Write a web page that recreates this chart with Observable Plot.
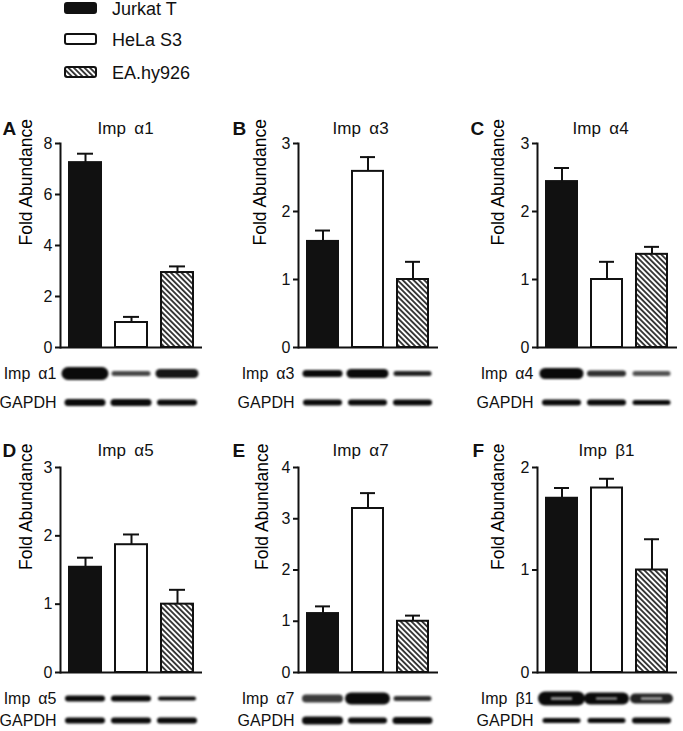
<!DOCTYPE html>
<html><head><meta charset="utf-8">
<script src="https://cdn.jsdelivr.net/npm/d3@7"></script>
<script src="https://cdn.jsdelivr.net/npm/@observablehq/plot@0.6"></script>
<style>
body{margin:0;background:#fff;font-family:"Liberation Sans",Arial,sans-serif;}
#fig{position:relative;width:683px;height:731px;overflow:hidden;background:#fff;}
.pos{position:absolute;}
.leg{position:absolute;left:64px;font-size:18px;color:#111;}
.leg svg{position:absolute;left:0;top:0;}
.leg span{position:absolute;left:48px;top:-3px;white-space:nowrap;}
svg text{-webkit-font-smoothing:antialiased;}
</style></head><body>
<svg width="0" height="0" style="position:absolute">
 <defs>
  <pattern id="hatch" patternUnits="userSpaceOnUse" width="3.8" height="3.8" patternTransform="rotate(-45)">
   <rect width="3.8" height="3.8" fill="white"/>
   <line x1="1.9" y1="-1" x2="1.9" y2="5" stroke="#111" stroke-width="1.6"/>
  </pattern>
 </defs>
</svg>
<div id="fig"></div>
<script>
// ---- data ----
const cells = ["Jurkat T", "HeLa S3", "EA.hy926"];
const panelLetters = ["A", "B", "C", "D", "E", "F"];
const proteins = ["Imp\u2002α1", "Imp\u2002α3", "Imp\u2002α4", "Imp\u2002α5", "Imp\u2002α7", "Imp\u2002β1"];
const yTicks = [[0, 2, 4, 6, 8], [0, 1, 2, 3], [0, 1, 2, 3], [0, 1, 2, 3], [0, 1, 2, 3, 4], [0, 1, 2]];

const meanA1 = [7.25, 0.98, 2.94], errA1 = [0.35, 0.22, 0.24];
const meanA3 = [1.56, 2.59, 1.0],  errA3 = [0.16, 0.21, 0.26];
const meanA4 = [2.44, 1.0, 1.37],  errA4 = [0.2, 0.26, 0.11];
const meanA5 = [1.54, 1.87, 1.0],  errA5 = [0.14, 0.15, 0.21];
const meanA7 = [1.15, 3.2, 1.0],   errA7 = [0.14, 0.3, 0.11];
const meanB1 = [1.7, 1.8, 1.0],    errB1 = [0.1, 0.09, 0.3];
const means = [meanA1, meanA3, meanA4, meanA5, meanA7, meanB1];
const errs = [errA1, errA3, errA4, errA5, errA7, errB1];

// western blot band appearance (thickness px, darkness)
const bandA1 = [13, 5, 9],  darkA1 = [1, 0.75, 0.95];
const bandA3 = [7, 9, 5],   darkA3 = [1, 1, 0.9];
const bandA4 = [11, 6, 5],  darkA4 = [1, 0.85, 0.7];
const bandA5 = [6, 6, 4],   darkA5 = [1, 1, 1];
const bandA7 = [8, 12, 5],  darkA7 = [0.8, 1, 0.85];
const bandB1 = [14, 12, 10], darkB1 = [1, 1, 0.9];
const gapdhA1 = [7, 7, 6], gapdhA3 = [6, 6, 6], gapdhA4 = [6, 6, 5];
const gapdhA5 = [6, 6, 6], gapdhA7 = [8, 6, 7], gapdhB1 = [5, 5, 6];
const innerB1 = [2.5, 2, 2.5];
const bands = [bandA1, bandA3, bandA4, bandA5, bandA7, bandB1];
const darks = [darkA1, darkA3, darkA4, darkA5, darkA7, darkB1];
const gapdhs = [gapdhA1, gapdhA3, gapdhA4, gapdhA5, gapdhA7, gapdhB1];

// ---- layout ----
const colLeft = [0, 230, 455];
const colMarginLeft = [60, 68, 82];
const colWidth = [204, 210, 224];
const rowTop = [110, 432], rowMarginTop = [33, 35], rowMarginBottom = [10, 8], rowHeight = [247, 248];
const blotTop = [358, 683], blotHeight = [57, 48], blotRange = [[15, 44], [15, 37]];
const titleDx = [37, 34, 35, 37, 34, 41];
const letterDx = [-58, -66, -67, -58, -66, -65];
const labelDx = [-34, -38, -39, -34, -36, -39];
const titleDy = [-22, -24];
const fills = ["#111", "white", "url(#hatch)"];
const font = "Liberation Sans, Arial, sans-serif";
const fig = document.getElementById("fig");

function place(el, left, top) {
  const d = document.createElement("div");
  d.className = "pos"; d.style.left = left + "px"; d.style.top = top + "px";
  d.appendChild(el); fig.appendChild(d);
}

for (let i = 0; i < 6; i++) {
  const col = i % 3, row = Math.floor(i / 3);
  const data = cells.map((c, j) => ({cell: c, value: means[i][j], err: errs[i][j], top: means[i][j] + errs[i][j]}));
  const xScale = {domain: cells, axis: null, paddingInner: 0.3, paddingOuter: 0.18};
  const marks = [
    Plot.ruleX(data, {x: "cell", y1: "value", y2: "top", stroke: "#111", strokeWidth: 2}),
    Plot.tickY(data, {x: "cell", y: "top", stroke: "#111", strokeWidth: 2, insetLeft: 8, insetRight: 8}),
    ...cells.map((c, j) => Plot.barY(data.filter(d => d.cell === c), {x: "cell", y: "value", fill: fills[j], stroke: "#111", strokeWidth: 2})),
    Plot.ruleY([0], {stroke: "#111", strokeWidth: 2}),
    Plot.frame({anchor: "left", stroke: "#111", strokeWidth: 2}),
    Plot.axisY(yTicks[i], {tickSize: 5, tickPadding: 3, fontSize: 16, strokeWidth: 2, stroke: "#111", fill: "#111", label: null, tickFormat: d => String(d)}),
    Plot.text(["Fold Abundance"], {text: d => d, frameAnchor: "left", rotate: -90, dx: labelDx[i], fontSize: 17.5, fill: "#000"}),
    Plot.text([proteins[i]], {text: d => d, frameAnchor: "top-left", textAnchor: "start", dx: titleDx[i], dy: titleDy[row], fontSize: 17, fill: "#111"}),
    Plot.text([panelLetters[i]], {text: d => d, frameAnchor: "top-left", textAnchor: "start", dx: letterDx[i], dy: titleDy[row], fontSize: 19, fontWeight: "bold", fill: "#111"})
  ];
  const chart = Plot.plot({
    width: colWidth[col], height: rowHeight[row],
    marginLeft: colMarginLeft[col], marginRight: 2,
    marginTop: rowMarginTop[row], marginBottom: rowMarginBottom[row],
    style: {fontFamily: font, background: "transparent", overflow: "visible"},
    x: xScale,
    y: {domain: [0, yTicks[i][yTicks[i].length - 1]], axis: null},
    marks
  });
  place(chart, colLeft[col], rowTop[row]);

  // western blot strip
  const bandData = [];
  cells.forEach((c, j) => {
    bandData.push({cell: c, row: proteins[i], thick: bands[i][j], dark: darks[i][j]});
    bandData.push({cell: c, row: "GAPDH", thick: gapdhs[i][j], dark: 1});
  });
  const blotMarks = [
    Plot.tickY(bandData, {x: "cell", y: "row", stroke: "#0a0a0a", strokeWidth: "thick", strokeOpacity: "dark",
      strokeLinecap: "round", insetLeft: -1, insetRight: -1, imageFilter: "blur(0.9px)"}),
    Plot.axisY({tickSize: 0, tickPadding: 4, fontSize: 16, fill: "#111", label: null})
  ];
  if (i === 5) {
    blotMarks.push(Plot.tickY(cells.map((c, j) => ({cell: c, row: proteins[i], w: innerB1[j]})),
      {x: "cell", y: "row", stroke: "#aaa", strokeWidth: "w", insetLeft: 5, insetRight: 5, imageFilter: "blur(0.8px)"}));
  }
  const blot = Plot.plot({
    width: colWidth[col], height: blotHeight[row],
    marginLeft: colMarginLeft[col], marginRight: 2, marginTop: 0, marginBottom: 0,
    style: {fontFamily: font, background: "transparent", overflow: "visible"},
    x: xScale,
    y: {type: "point", domain: [proteins[i], "GAPDH"], range: blotRange[row], padding: 0, label: null, axis: null},
    marks: blotMarks
  });
  place(blot, colLeft[col], blotTop[row]);
}

// legend
const legTops = [2, 33, 66];
cells.forEach((c, j) => {
  const d = document.createElement("div");
  d.className = "leg"; d.style.top = legTops[j] + "px";
  d.innerHTML = `<svg width="34" height="12"><rect x="1" y="1" width="31" height="10" rx="2" fill="${fills[j]}" stroke="#111" stroke-width="2"/></svg><span>${c}</span>`;
  fig.appendChild(d);
});
</script>
</body></html>
